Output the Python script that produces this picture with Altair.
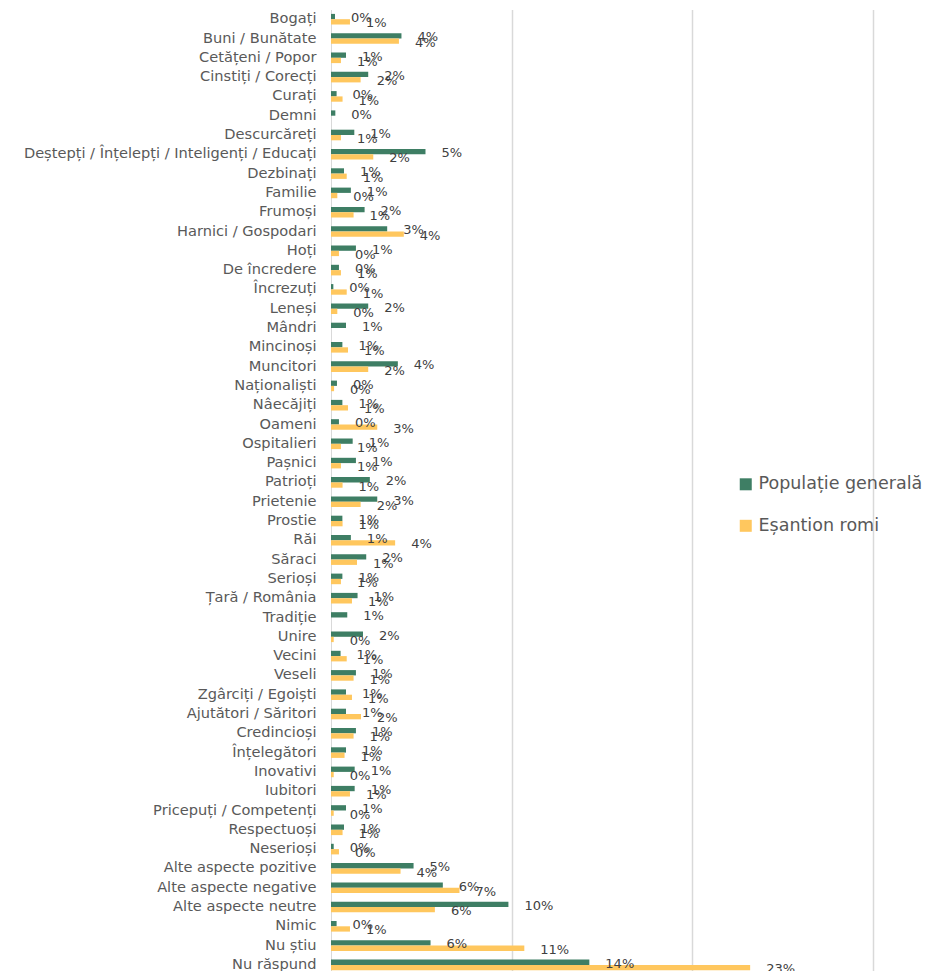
import altair as alt
import pandas as pd

categories = [
    "Bogați", "Buni / Bunătate", "Cetățeni / Popor", "Cinstiți / Corecți", "Curați",
    "Demni", "Descurcăreți", "Deștepți / Înțelepți / Inteligenți / Educați", "Dezbinați",
    "Familie", "Frumoși", "Harnici / Gospodari", "Hoți", "De încredere", "Încrezuți",
    "Leneși", "Mândri", "Mincinoși", "Muncitori", "Naționaliști", "Nâecăjiți", "Oameni",
    "Ospitalieri", "Pașnici", "Patrioți", "Prietenie", "Prostie", "Răi", "Săraci",
    "Serioși", "Țară / România", "Tradiție", "Unire", "Vecini", "Veseli",
    "Zgârciți / Egoiști", "Ajutători / Săritori", "Credincioși", "Înțelegători",
    "Inovativi", "Iubitori", "Pricepuți / Competenți", "Respectuoși", "Neserioși",
    "Alte aspecte pozitive", "Alte aspecte negative", "Alte aspecte neutre", "Nimic",
    "Nu știu", "Nu răspund",
]

# percentages
populatie_generala = [
    0.22, 3.90, 0.83, 2.06, 0.31,
    0.24, 1.29, 5.23, 0.72,
    1.10, 1.86, 3.11, 1.38, 0.44, 0.13,
    2.06, 0.83, 0.63, 3.70, 0.33, 0.63, 0.44,
    1.20, 1.38, 2.15, 2.56, 0.63, 1.10, 1.95,
    0.63, 1.47, 0.90, 1.77, 0.53, 1.38,
    0.83, 0.83, 1.38, 0.83,
    1.31, 1.31, 0.83, 0.72, 0.15,
    4.57, 6.19, 9.82, 0.31,
    5.51, 14.30,
]
esantion_romi = [
    1.05, 3.76, 0.55, 1.64, 0.64,
    None, 0.55, 2.34, 0.87,
    0.35, 1.25, 4.03, 0.44, 0.55, 0.87,
    0.35, None, 0.94, 2.06, 0.17, 0.94, 2.56,
    0.55, 0.55, 0.64, 1.64, 0.64, 3.55, 1.44,
    0.55, 1.16, None, 0.15, 0.87, 1.25,
    1.16, 1.66, 1.25, 0.75,
    0.15, 1.05, 0.15, 0.64, 0.44,
    3.85, 7.11, 5.75, 1.05,
    10.70, 23.20,
]
series_names = ["Populație generală", "Eșantion romi"]
series_colors = ["#3E7E64", "#FFC75E"]

rows = []
for c, g, r in zip(categories, populatie_generala, esantion_romi):
    rows.append({"cat": c, "series": series_names[0], "value": g / 100})
    if r is not None:
        rows.append({"cat": c, "series": series_names[1], "value": r / 100})
df = pd.DataFrame(rows)

y_enc = alt.Y(
    "cat:N", sort=categories,
    scale=alt.Scale(paddingInner=0.45, paddingOuter=0.225),
    axis=alt.Axis(title=None, ticks=False, labelPadding=15, labelFontSize=14.6,
                  labelFont="DejaVu Sans", labelColor="#595959", domainColor="#d9d9d9",
                  domainWidth=1, labelLimit=0, grid=False),
)
x_enc = alt.X(
    "value:Q", scale=alt.Scale(domain=[0, 0.3], nice=False, zero=True),
    axis=alt.Axis(title=None, labels=False, ticks=False, domain=False,
                  values=[0.1, 0.2, 0.3], grid=True, gridColor="#d9d9d9", gridWidth=1.5),
)
yoff = alt.YOffset("series:N", sort=series_names,
                   scale=alt.Scale(domain=series_names, paddingInner=0, paddingOuter=0))

bars = alt.Chart(df).mark_bar().encode(
    x=x_enc, y=y_enc, yOffset=yoff,
    color=alt.Color(
        "series:N",
        scale=alt.Scale(domain=series_names, range=series_colors),
        legend=alt.Legend(title=None, orient="none", legendX=406, legendY=466,
                          symbolType="square", symbolSize=144, symbolStrokeWidth=0,
                          labelFontSize=17.5, labelFont="DejaVu Sans", labelColor="#595959",
                          rowPadding=22.5, labelOffset=4, labelLimit=0),
    ),
)

labels = alt.Chart(df).mark_text(
    align="left", baseline="middle", dx=16, dy=1.5, fontSize=13,
    font="DejaVu Sans", color="#404040",
).encode(
    x=x_enc, y=y_enc, yOffset=yoff,
    text=alt.Text("value:Q", format=".0%"),
)

chart = (bars + labels).properties(
    width=542, height=965,
    autosize=alt.AutoSizeParams(type="none"),
    padding={"left": 323, "top": 1.55, "right": 53, "bottom": -3.55},
).configure_view(stroke=None)

chart.save("out.html", embed_options={"renderer": "svg", "actions": False})
